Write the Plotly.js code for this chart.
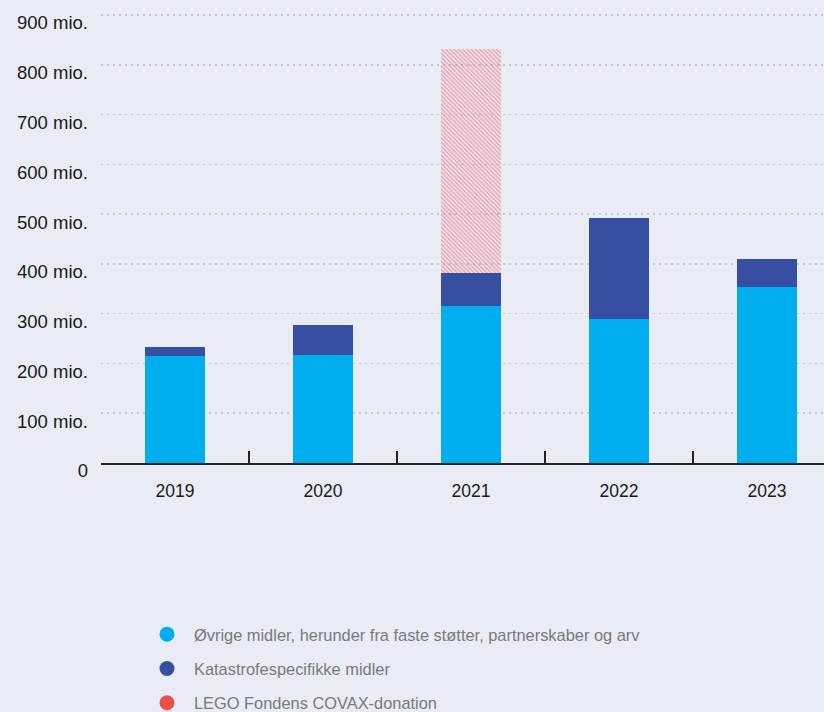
<!DOCTYPE html>
<html>
<head>
<meta charset="utf-8">
<script src="https://cdn.plot.ly/plotly-3.0.1.min.js"></script>
<style>
html,body{margin:0;padding:0;background:#eaecf5;}
#chart{width:824px;height:712px;}
</style>
</head>
<body>
<div id="chart"></div>
<script>
var years = ["2019", "2020", "2021", "2022", "2023"];
var ovrige = [215, 217, 316, 290, 354];
var katastrofe = [18, 61, 66, 203, 56];
var covax = [0, 0, 450, 0, 0];
var yTickVals = [0, 100, 200, 300, 400, 500, 600, 700, 800, 900];
var yTickText = ["0", "100 mio.", "200 mio.", "300 mio.", "400 mio.", "500 mio.", "600 mio.", "700 mio.", "800 mio.", "900 mio."];
var seriesNames = ["Øvrige midler, herunder fra faste støtter, partnerskaber og arv", "Katastrofespecifikke midler", "LEGO Fondens COVAX-donation"];
var colors = ["#00aeef", "#374fa3", "#e8504a"];

var barW = 0.405;
var traces = [
  {type: "bar", x: years, y: ovrige, width: barW, marker: {color: colors[0]}, showlegend: false, hoverinfo: "skip"},
  {type: "bar", x: years, y: katastrofe, width: barW, marker: {color: colors[1]}, showlegend: false, hoverinfo: "skip"},
  {type: "bar", x: years, y: covax, width: barW, showlegend: false, hoverinfo: "skip",
   marker: {color: "rgba(0,0,0,0)", line: {width: 0}, pattern: {shape: "\\", fgcolor: "#ee6f78", bgcolor: "rgba(0,0,0,0)", fgopacity: 0.6, size: 3, solidity: 0.5}}}
];
seriesNames.forEach(function (n, i) {
  traces.push({type: "scatter", mode: "markers", x: [null], y: [null], name: n, legendgroup: "g" + i,
    marker: {color: colors[i], size: 15, symbol: "circle"}, hoverinfo: "skip"});
});

var shapes = [];
for (var i = 0; i < years.length - 1; i++) {
  shapes.push({type: "line", xref: "x", yref: "y", x0: i + 0.5, x1: i + 0.5,
    ysizemode: "pixel", yanchor: 0, y0: 0, y1: 12, line: {color: "#222", width: 2}});
}

var layout = {
  width: 824, height: 712,
  paper_bgcolor: "#eaecf5", plot_bgcolor: "#eaecf5",
  margin: {l: 101, r: 0, t: 10, b: 249, autoexpand: false},
  barmode: "stack",
  font: {family: "Liberation Sans, Arial, Helvetica, sans-serif", size: 17, color: "#1a1a1a"},
  xaxis: {type: "category", range: [-0.5, 4.385], showgrid: false, showline: true, linecolor: "#222", linewidth: 2,
    ticks: "", ticklabelstandoff: 11, tickangle: 0, automargin: false, tickfont: {size: 17.5, color: "#1a1a1a"}, zeroline: false, fixedrange: true},
  yaxis: {range: [0, 910], tickvals: yTickVals, ticktext: yTickText, showgrid: true, gridcolor: "#c3c7cf", gridwidth: 1.5,
    griddash: "2px,4px", zeroline: false, showline: false, ticks: "", ticklabelshift: 8, automargin: false,
    ticklabelstandoff: 12, tickfont: {size: 18.5, color: "#1a1a1a"}, fixedrange: true},
  shapes: shapes,
  showlegend: true,
  legend: {xref: "container", yref: "container", x: 140 / 824, y: 1 - 617 / 712, xanchor: "left", yanchor: "top",
    bgcolor: "rgba(0,0,0,0)", font: {size: 16.4, color: "#78797e"}, itemwidth: 44, tracegroupgap: 10, traceorder: "grouped"}
};
Plotly.newPlot("chart", traces, layout, {displayModeBar: false, staticPlot: true});
</script>
</body>
</html>
